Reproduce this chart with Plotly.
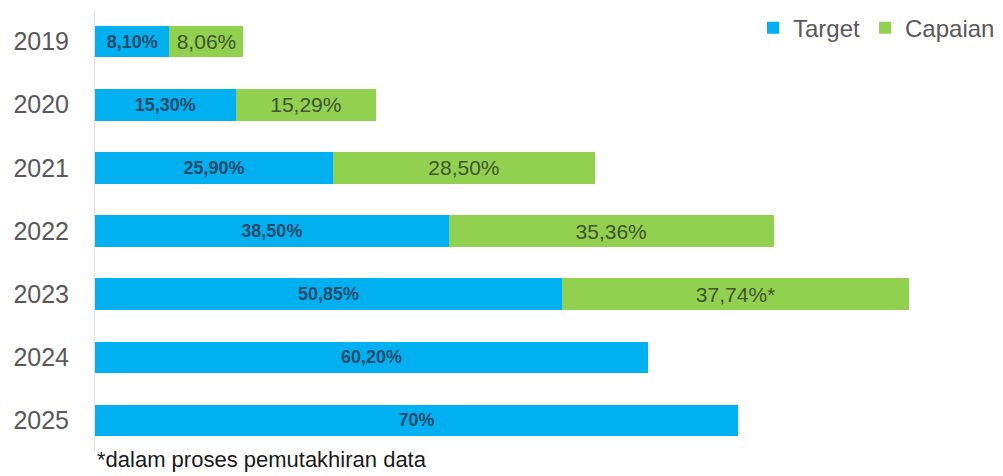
import plotly.graph_objects as go

years = ["2019", "2020", "2021", "2022", "2023", "2024", "2025"]
target = [8.10, 15.30, 25.90, 38.50, 50.85, 60.20, 70.00]
capaian = [8.06, 15.29, 28.50, 35.36, 37.74, None, None]
target_labels = ["8,10%", "15,30%", "25,90%", "38,50%", "50,85%", "60,20%", "70%"]
capaian_labels = ["8,06%", "15,29%", "28,50%", "35,36%", "37,74%*", "", ""]

fig = go.Figure()

fig.add_trace(go.Bar(
    y=years,
    x=target,
    name="Target",
    orientation="h",
    marker=dict(color="#00b0f0", line=dict(width=0)),
    text=target_labels,
    textposition="inside",
    insidetextanchor="middle",
    constraintext="none",
    textfont=dict(family="Liberation Sans", size=18, color="#264b6b", weight="bold"),
    hoverinfo="skip",
))

fig.add_trace(go.Bar(
    y=years,
    x=capaian,
    name="Capaian",
    orientation="h",
    marker=dict(color="#92d050", line=dict(width=0)),
    text=capaian_labels,
    textposition="inside",
    insidetextanchor="middle",
    constraintext="none",
    textfont=dict(family="Liberation Sans", size=21, color="#3f5530"),
    hoverinfo="skip",
))

# footnote under the bars
fig.add_annotation(
    text="*dalam proses pemutakhiran data",
    xref="paper", yref="paper",
    x=0.0, y=-0.05,
    xanchor="left", yanchor="bottom",
    showarrow=False,
    font=dict(family="Liberation Sans", size=22, color="#1a1a1a"),
)

# page body has an 8px margin, so the figure is a bit smaller than the window
fig.update_layout(
    barmode="stack",
    bargap=0.5,
    width=995,
    height=468,
    xaxis=dict(
        range=[0, 98.5],
        showgrid=False,
        showticklabels=False,
        zeroline=False,
        showline=False,
        fixedrange=True,
        automargin=False,
    ),
    yaxis=dict(
        categoryorder="array",
        categoryarray=years[::-1],
        showgrid=False,
        showline=True,
        linecolor="#e0e0e0",
        linewidth=1,
        ticks="",
        ticklabelstandoff=20,
        automargin=False,
        tickfont=dict(family="Liberation Sans", size=25, color="#595959"),
    ),
    legend=dict(
        orientation="h",
        x=1.0, xanchor="right",
        y=1.01, yanchor="top",
        font=dict(family="Liberation Sans", size=24, color="#595959"),
        itemwidth=30,
        traceorder="normal",
        bgcolor="rgba(0,0,0,0)",
    ),
    plot_bgcolor="white",
    paper_bgcolor="white",
    margin=dict(l=87, r=3, t=2, b=24, autoexpand=False),
)

fig.write_html("out.html")
